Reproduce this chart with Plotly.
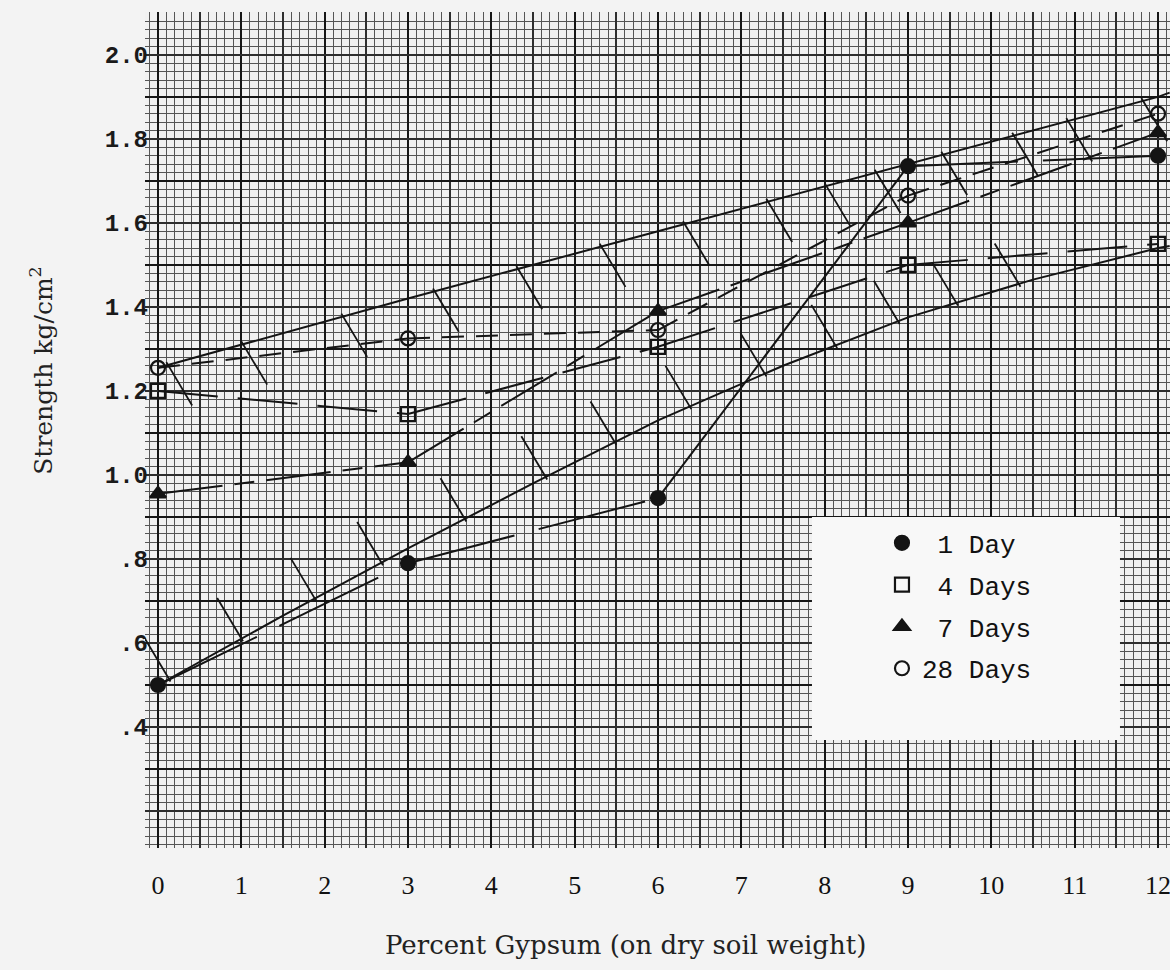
import plotly.graph_objects as go
import numpy as np

# ---------------- data ----------------
gypsum_pct = [0, 3, 6, 9, 12]
day1 = [0.50, 0.79, 0.945, 1.735, 1.76]
day4 = [1.20, 1.145, 1.305, 1.50, 1.55]
day7 = [0.955, 1.03, 1.39, 1.60, 1.815]
day28 = [1.255, 1.325, 1.345, 1.665, 1.86]

band_upper_x = [0, 3, 6, 9, 12, 12.14]
band_upper_y = [1.255, 1.42, 1.58, 1.74, 1.90, 1.91]
band_lower_x = [0, 1.5, 3, 4.5, 6, 7.5, 9, 10.5, 12, 12.14]
band_lower_y = [0.50, 0.665, 0.825, 0.98, 1.13, 1.26, 1.375, 1.465, 1.54, 1.545]

upper_hatch_at = [0.1, 1.0, 2.2, 3.3, 4.3, 5.3, 6.3, 7.3, 8.0, 8.6, 9.4, 10.25, 10.9, 11.8]
lower_hatch_at = [0.15, 1.02, 1.9, 2.7, 3.7, 4.67, 5.5, 6.4, 7.3, 8.15, 8.9, 9.6, 10.35]

x_tick_vals = list(range(13))
y_tick_vals = [0.4, 0.6, 0.8, 1.0, 1.2, 1.4, 1.6, 1.8, 2.0]
y_tick_text = [".4", ".6", ".8", "1.0", "1.2", "1.4", "1.6", "1.8", "2.0"]

x_title = "Percent Gypsum (on dry soil weight)"
y_title = "Strength kg/cm<sup>2</sup>"

series = [
    ("\u00a01 Day", day1, "circle", ["110px,25px", "110px,25px", "solid", "110px,25px"]),
    ("\u00a04 Days", day4, "square-open", ["60px,20px"] * 4),
    ("\u00a07 Days", day7, "triangle-up", ["65px,12px,20px,12px"] * 4),
    ("28 Days", day28, "circle-open", ["22px,12px"] * 4),
]

# ---------------- styling ----------------
INK = "#141414"
X_RANGE = [-0.156, 12.144]
Y_RANGE = [0.112, 2.102]
HATCH_DX = 0.31
HATCH_DY = 0.095
MINOR = "#555555"
MEDIUM = "#2e2e2e"
HEAVY = "#161616"

fig = go.Figure()

# band boundaries
fig.add_trace(go.Scatter(x=band_upper_x, y=band_upper_y, mode="lines",
                         line=dict(color=INK, width=2), showlegend=False, hoverinfo="skip"))
fig.add_trace(go.Scatter(x=band_lower_x, y=band_lower_y, mode="lines",
                         line=dict(color=INK, width=2), showlegend=False, hoverinfo="skip"))

# hatch ticks derived from the boundaries
hx, hy = [], []
for xv in upper_hatch_at:
    yv = float(np.interp(xv, band_upper_x, band_upper_y))
    hx += [xv, xv + HATCH_DX, None]
    hy += [yv + 0.008, yv - HATCH_DY, None]
for xv in lower_hatch_at:
    yv = float(np.interp(xv, band_lower_x, band_lower_y))
    hx += [xv, xv - HATCH_DX, None]
    hy += [yv - 0.008, yv + HATCH_DY, None]
fig.add_trace(go.Scatter(x=hx, y=hy, mode="lines", line=dict(color=INK, width=1.8),
                         showlegend=False, hoverinfo="skip", connectgaps=False))

# series lines (segment by segment, to keep the hand-drawn dash styles)
for name, vals, sym, dashes in series:
    for i in range(len(gypsum_pct) - 1):
        fig.add_trace(go.Scatter(x=gypsum_pct[i:i + 2], y=vals[i:i + 2], mode="lines",
                                 line=dict(color=INK, width=2, dash=dashes[i]),
                                 legendgroup=name, showlegend=False, hoverinfo="skip"))
for name, vals, sym, dashes in series:
    fig.add_trace(go.Scatter(x=gypsum_pct, y=vals, mode="markers", name=name,
                             legendgroup=name, cliponaxis=False,
                             marker=dict(symbol=sym, size=14, color=INK,
                                         line=dict(color=INK, width=2.2))))

# dummy traces for the overlay axes that carry the extra graph-paper rulings
fig.add_trace(go.Scatter(x=[None], y=[None], xaxis="x2", yaxis="y2",
                         showlegend=False, hoverinfo="skip"))
fig.add_trace(go.Scatter(x=[None], y=[None], xaxis="x2", yaxis="y3",
                         showlegend=False, hoverinfo="skip"))

# legend backing (white pasted label)
fig.add_shape(type="rect", xref="paper", yref="paper",
              x0=0.6507, x1=0.9512, y0=0.1292, y1=0.3959,
              fillcolor="#f8f8f8", line=dict(width=0), layer="above")

# axis titles, placed where the original typed them
fig.add_annotation(text=y_title, textangle=-90,
                   xref="paper", yref="paper", x=-0.1005, y=0.572,
                   xanchor="center", yanchor="middle", showarrow=False,
                   font=dict(family="DejaVu Serif", size=25, color="#222"))
fig.add_annotation(text=x_title,
                   xref="paper", yref="paper", x=0.469, y=-0.116,
                   xanchor="center", yanchor="middle", showarrow=False,
                   font=dict(family="DejaVu Serif", size=26, color="#222"))

fig.update_layout(
    width=1170, height=970,
    margin=dict(l=145, r=0, t=12, b=122, pad=0, autoexpand=False),
    paper_bgcolor="#f3f3f3", plot_bgcolor="#f1f1f1",
    showlegend=True,
    legend=dict(x=0.719, y=0.393, xanchor="left", yanchor="top",
                bgcolor="rgba(0,0,0,0)", borderwidth=0,
                font=dict(family="Liberation Mono", size=26, color="#111"),
                traceorder="grouped", tracegroupgap=5),
    xaxis=dict(range=X_RANGE, tickmode="array", tickvals=x_tick_vals,
               showgrid=True, gridcolor=HEAVY, gridwidth=2.2, automargin=False,
               minor=dict(tick0=0, dtick=0.1, showgrid=True, gridcolor=MINOR, gridwidth=1),
               zeroline=False, showline=False, ticks="", ticklabeloverflow="allow",
               ticklabelstandoff=19,
               tickfont=dict(family="Liberation Serif", size=26, color="#111")),
    xaxis2=dict(range=X_RANGE, overlaying="x", anchor="y", side="bottom",
                tickmode="linear", tick0=0.5, dtick=1, showgrid=True,
                gridcolor=MEDIUM, gridwidth=1.5, showticklabels=False,
                zeroline=False, showline=False, ticks=""),
    yaxis=dict(range=Y_RANGE, tickmode="array", tickvals=y_tick_vals, ticktext=y_tick_text,
               showgrid=False, automargin=False,
               minor=dict(tick0=0, dtick=0.02, showgrid=True, gridcolor=MINOR, gridwidth=1),
               zeroline=False, showline=False, ticks="", ticklabelstandoff=-4,
               tickfont=dict(family="Liberation Mono", size=24, color="#1a1a1a", weight="bold")),
    yaxis2=dict(range=Y_RANGE, overlaying="y", anchor="x", side="left",
                tickmode="linear", tick0=0.1, dtick=0.2, showgrid=True,
                gridcolor=HEAVY, gridwidth=2.2, showticklabels=False,
                zeroline=False, showline=False, ticks=""),
    yaxis3=dict(range=Y_RANGE, overlaying="y", anchor="x", side="left",
                tickmode="linear", tick0=0.0, dtick=0.2, showgrid=True,
                gridcolor=MEDIUM, gridwidth=1.5, showticklabels=False,
                zeroline=False, showline=False, ticks=""),
)

fig.write_html("out.html", config={"displayModeBar": False},
               post_script="document.body.style.margin='0px';")
